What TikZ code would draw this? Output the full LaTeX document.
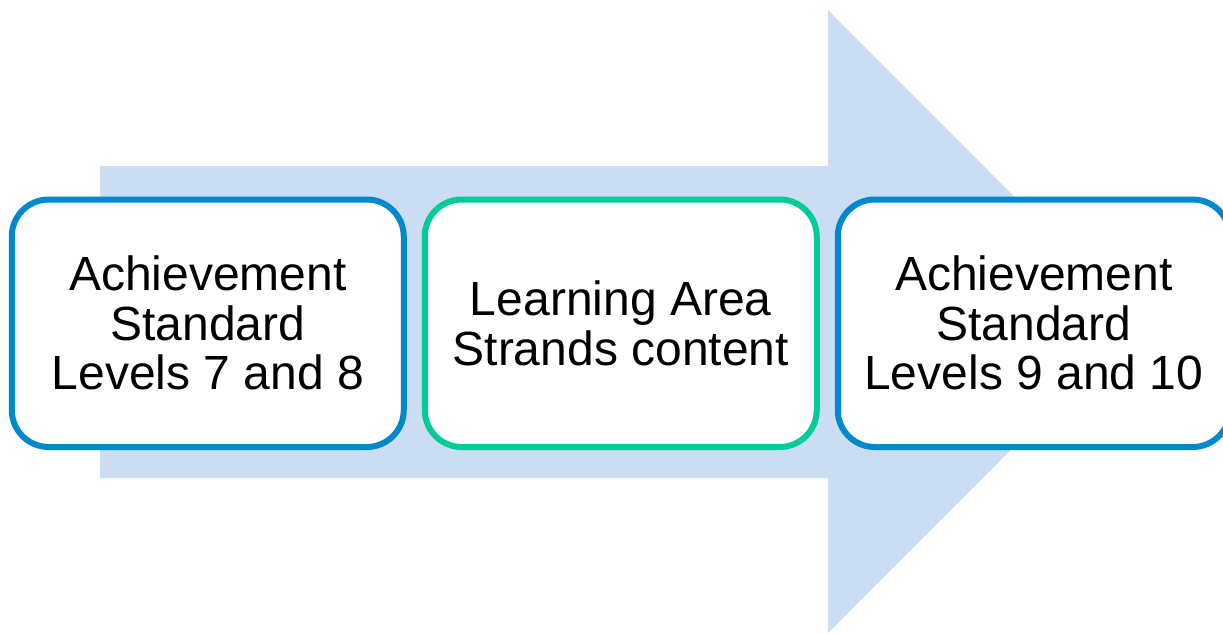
\documentclass[tikz,border=0pt]{standalone}
\usepackage{fontspec}
\setmainfont{Liberation Sans}
\usetikzlibrary{positioning}

\definecolor{arrowfill}{RGB}{203,221,242}
\definecolor{levelblue}{RGB}{0,136,204}
\definecolor{areagreen}{RGB}{0,204,153}

\begin{document}
\begin{tikzpicture}[
		x=1pt, y=-1pt,
		stage/.style={draw=levelblue, fill=white, line width=6pt, rounded corners=37pt,
			minimum width=392pt, minimum height=247.5pt, align=center,
			font=\fontsize{48}{49.5}\selectfont}
	]
		\useasboundingbox (0,0) rectangle (1223,633);
		\clip (0,0) rectangle (1223,633);

		% big background arrow
		\fill[arrowfill] (100,166) -- (828,166) -- (828,10) -- (1139,321.5)
			-- (828,633) -- (828,478) -- (100,478) -- cycle;

		\node[stage] (as low) at (207.75,323.25) {Achievement\\Standard\\Levels 7 and 8};
		\node[stage, draw=areagreen, right=15pt of as low] (strands) {Learning Area\\Strands content};
		\node[stage, right=15pt of strands] (as high) {Achievement\\Standard\\Levels 9 and 10};
	\end{tikzpicture}
\end{document}
